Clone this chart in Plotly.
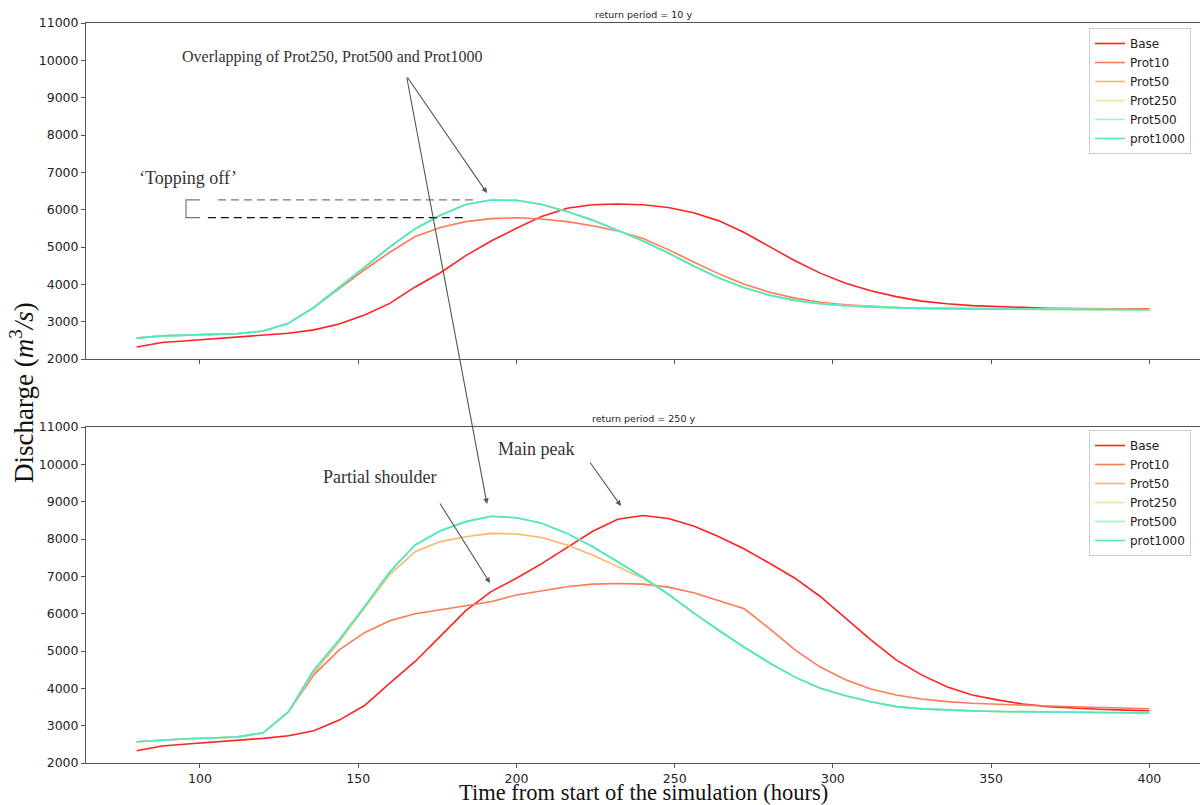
import plotly.graph_objects as go

# ---------------- data ----------------
hours = [80, 88, 96, 104, 112, 120, 128, 136, 144, 152, 160, 168, 176, 184, 192, 200,
         208, 216, 224, 232, 240, 248, 256, 264, 272, 280, 288, 296, 304, 312, 320,
         328, 336, 344, 352, 360, 368, 376, 384, 392, 400]

series_names = ["Base", "Prot10", "Prot50", "Prot250", "Prot500", "prot1000"]
series_colors = ["#ff2222", "#ff7a55", "#ffb56e", "#d2f0a0", "#a4f4c2", "#4de6c6"]

# return period = 10 y
rp10_base = [2320, 2440, 2490, 2540, 2600, 2640, 2690, 2780, 2940, 3180, 3490, 3930, 4310, 4770,
             5160, 5500, 5820, 6040, 6130, 6150, 6130, 6060, 5920, 5700, 5390, 5010, 4630, 4300,
             4030, 3830, 3670, 3550, 3480, 3430, 3400, 3380, 3360, 3350, 3345, 3340, 3335]
rp10_prot10 = [2560, 2620, 2640, 2660, 2680, 2750, 2960, 3380, 3880, 4390, 4860, 5280, 5520, 5680,
               5760, 5785, 5750, 5680, 5570, 5430, 5230, 4930, 4600, 4280, 4000, 3790, 3630, 3520,
               3450, 3410, 3380, 3365, 3355, 3350, 3345, 3342, 3340, 3337, 3335, 3332, 3330]
rp10_prot50 = [2560, 2620, 2640, 2660, 2680, 2750, 2960, 3380, 3920, 4460, 5000, 5490, 5850, 6140,
               6260, 6250, 6140, 5950, 5720, 5450, 5160, 4840, 4490, 4170, 3910, 3710, 3570, 3480,
               3425, 3395, 3370, 3355, 3345, 3340, 3335, 3332, 3330, 3327, 3325, 3322, 3320]
rp10_prot250 = list(rp10_prot50)
rp10_prot500 = list(rp10_prot50)
rp10_prot1000 = list(rp10_prot50)

# return period = 250 y
rp250_base = [2330, 2455, 2510, 2555, 2615, 2660, 2730, 2865, 3150, 3540, 4140, 4720, 5400, 6080,
              6590, 6950, 7340, 7780, 8200, 8530, 8630, 8550, 8350, 8060, 7730, 7350, 6950, 6460,
              5880, 5300, 4760, 4360, 4040, 3820, 3690, 3580, 3510, 3465, 3440, 3415, 3400]
rp250_prot10 = [2570, 2620, 2650, 2670, 2700, 2810, 3375, 4360, 5030, 5490, 5810, 6000, 6110, 6200,
                6320, 6500, 6620, 6720, 6790, 6810, 6790, 6710, 6560, 6350, 6130, 5600, 5030, 4570,
                4230, 3980, 3820, 3715, 3645, 3600, 3570, 3545, 3525, 3505, 3490, 3470, 3455]
rp250_prot50 = [2570, 2620, 2650, 2670, 2700, 2810, 3375, 4420, 5250, 6150, 7050, 7660, 7930, 8060,
                8150, 8135, 8040, 7840, 7570, 7260, 6950, 6520, 6020, 5550, 5100, 4680, 4300, 4000,
                3800, 3640, 3510, 3450, 3415, 3395, 3380, 3370, 3360, 3355, 3350, 3345, 3340]
rp250_prot250 = [2570, 2620, 2650, 2670, 2700, 2810, 3375, 4490, 5300, 6190, 7120, 7840, 8220, 8465,
                 8610, 8570, 8420, 8150, 7800, 7390, 6975, 6520, 6020, 5550, 5100, 4680, 4300, 4000,
                 3800, 3640, 3510, 3450, 3415, 3395, 3380, 3370, 3360, 3355, 3350, 3345, 3340]
rp250_prot500 = list(rp250_prot250)
rp250_prot1000 = list(rp250_prot250)

top_series = [rp10_base, rp10_prot10, rp10_prot50, rp10_prot250, rp10_prot500, rp10_prot1000]
bottom_series = [rp250_base, rp250_prot10, rp250_prot50, rp250_prot250, rp250_prot500, rp250_prot1000]

x_ticks = [100, 150, 200, 250, 300, 350, 400]
y_ticks = [2000, 3000, 4000, 5000, 6000, 7000, 8000, 9000, 10000, 11000]
y_ticktext = [str(v) for v in y_ticks]

# ---------------- figure ----------------
W, H = 1200, 805
ML, MR, MT, MB = 86, 0, 23, 42
PW, PH = W - ML - MR, H - MT - MB


def px(x):
    return (x - ML) / PW


def py(y):
    return (H - MB - y) / PH


fig = go.Figure()

for name, color, vals in zip(series_names, series_colors, top_series):
    fig.add_trace(go.Scatter(x=hours, y=vals, mode="lines", name=name,
                             line=dict(color=color, width=1.6),
                             xaxis="x", yaxis="y", legend="legend"))
for name, color, vals in zip(series_names, series_colors, bottom_series):
    fig.add_trace(go.Scatter(x=hours, y=vals, mode="lines", name=name,
                             line=dict(color=color, width=1.6),
                             xaxis="x2", yaxis="y2", legend="legend2"))

axis_common = dict(showgrid=False, zeroline=False, showline=True, linecolor="#555555",
                   linewidth=1, ticks="outside", ticklen=4, tickcolor="#555555",
                   tickfont=dict(family="DejaVu Sans", size=12.5, color="#222222"))

top_dom = [py(359), 1.0]
bot_dom = [0.0, py(427)]

legend_common = dict(xanchor="left", yanchor="top", bordercolor="#cccccc", borderwidth=1,
                     bgcolor="white", font=dict(family="DejaVu Sans", size=12, color="#222222"),
                     tracegroupgap=0, itemwidth=30)

fig.update_layout(
    width=W, height=H,
    margin=dict(l=ML, r=MR, t=MT, b=MB),
    plot_bgcolor="white", paper_bgcolor="white",
    xaxis=dict(domain=[0, 1], anchor="y", range=[64, 416], tickvals=x_ticks,
               showticklabels=False, mirror=True, **axis_common),
    yaxis=dict(domain=top_dom, anchor="x", range=[2000, 11000], tickvals=y_ticks,
               ticktext=y_ticktext, **axis_common),
    xaxis2=dict(domain=[0, 1], anchor="y2", range=[64, 416], tickvals=x_ticks,
                mirror=True, **axis_common),
    yaxis2=dict(domain=bot_dom, anchor="x2", range=[2000, 11000], tickvals=y_ticks,
                ticktext=y_ticktext, **axis_common),
    legend=dict(x=px(1089), y=py(28), **legend_common),
    legend2=dict(x=px(1089), y=py(430), **legend_common),
    showlegend=True,
)

serif = "Liberation Serif"
ann = []
# subplot titles
ann.append(dict(text="return period = 10 y", x=0.5, y=py(14), xref="paper", yref="paper",
                showarrow=False, font=dict(family="DejaVu Sans", size=9.5, color="#222"),
                xanchor="center", yanchor="middle"))
ann.append(dict(text="return period = 250 y", x=0.5, y=py(418), xref="paper", yref="paper",
                showarrow=False, font=dict(family="DejaVu Sans", size=9.5, color="#222"),
                xanchor="center", yanchor="middle"))
# axis titles
ann.append(dict(text="Time from start of the simulation (hours)", x=px(643), y=py(792),
                xref="paper", yref="paper", showarrow=False,
                font=dict(family=serif, size=22.5, color="#111"), xanchor="center", yanchor="middle"))
ann.append(dict(text="Discharge (<i>m</i><sup>3</sup><i>/s</i>)", x=px(22), y=py(393),
                xref="paper", yref="paper", showarrow=False, textangle=-90,
                font=dict(family=serif, size=27, color="#111"), xanchor="center", yanchor="middle"))
# text annotations
ann.append(dict(text="Overlapping of Prot250, Prot500 and Prot1000", x=px(180), y=py(57),
                xref="paper", yref="paper", showarrow=False,
                font=dict(family=serif, size=16, color="#333"), xanchor="left", yanchor="middle"))
ann.append(dict(text="\u2018Topping off\u2019", x=px(137), y=py(178),
                xref="paper", yref="paper", showarrow=False,
                font=dict(family=serif, size=18, color="#333"), xanchor="left", yanchor="middle"))
ann.append(dict(text="Partial shoulder", x=px(321), y=py(477),
                xref="paper", yref="paper", showarrow=False,
                font=dict(family=serif, size=18, color="#333"), xanchor="left", yanchor="middle"))
ann.append(dict(text="Main peak", x=px(496), y=py(449),
                xref="paper", yref="paper", showarrow=False,
                font=dict(family=serif, size=18, color="#333"), xanchor="left", yanchor="middle"))

# arrows: (tail_px, tail_py, head_px, head_py)
arrows = [(406.5, 76, 487, 193), (406.5, 76, 487, 504), (439, 502, 490, 583), (589, 461, 621, 506)]
for tx, ty, hx, hy in arrows:
    ann.append(dict(x=px(hx), y=py(hy), xref="paper", yref="paper", ax=tx - hx, ay=ty - hy,
                    axref="pixel", ayref="pixel", text="", showarrow=True, arrowhead=2,
                    arrowsize=1.0, arrowwidth=1.1, arrowcolor="#555555", standoff=0))
fig.update_layout(annotations=ann)

# 'Topping off' guide lines (data coords for peak levels)
peak_hi = max(rp10_prot1000)
peak_lo = max(rp10_prot10)
shapes = [
    dict(type="line", xref="x", yref="y", x0=105.7, x1=187.5, y0=peak_hi, y1=peak_hi,
         line=dict(color="#777777", width=1.2, dash="8px,5px")),
    dict(type="line", xref="x", yref="y", x0=102.5, x1=184.3, y0=peak_lo, y1=peak_lo,
         line=dict(color="#111111", width=1.2, dash="8px,5px")),
    dict(type="path", xref="x", yref="y",
         path=f"M 100,{peak_hi} L 95.6,{peak_hi} L 95.6,{peak_lo} L 100,{peak_lo}",
         line=dict(color="#777777", width=1.2)),
]
fig.update_layout(shapes=shapes)

fig.write_html("out.html")
